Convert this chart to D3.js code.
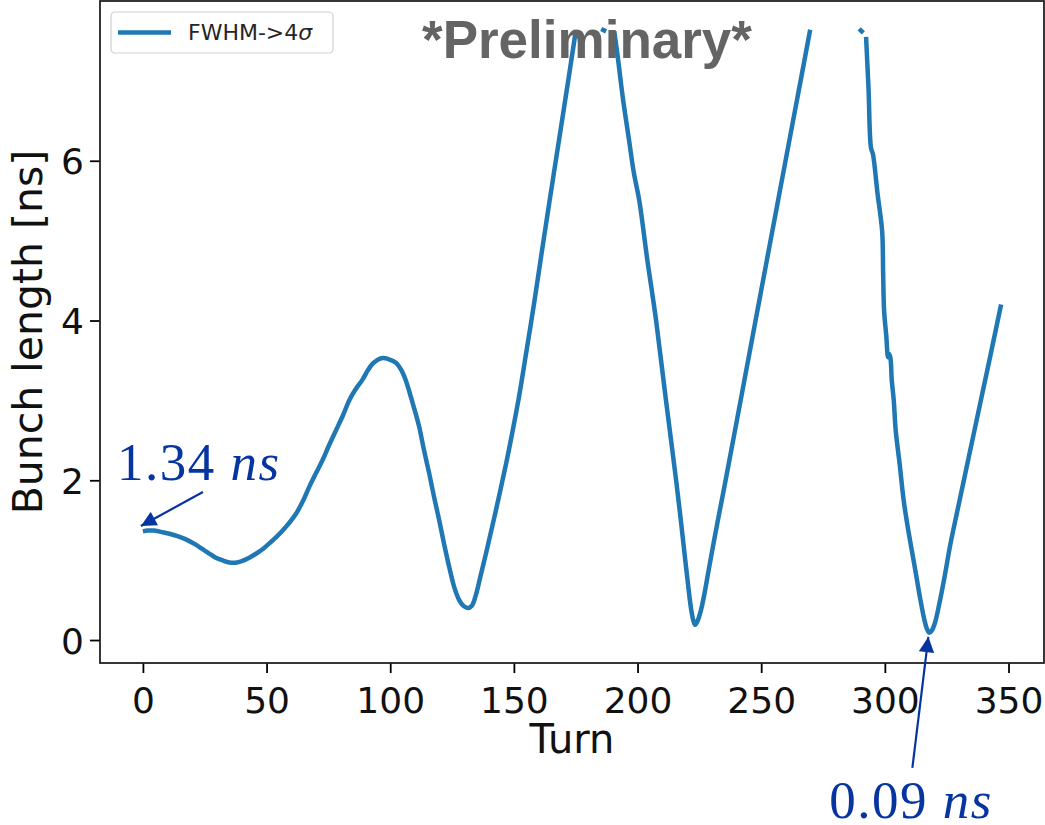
<!DOCTYPE html>
<html>
<head>
<meta charset="utf-8">
<script src="https://cdn.jsdelivr.net/npm/d3@7"></script>
<style>
  body { margin: 0; background: #fff; }
  svg { display: block; }
</style>
</head>
<body>
<div id="chart"></div>
<script>
// bunch length (FWHM scaled to 4 sigma) per turn, null = no valid fit
const turns = [
  0, 2, 4.6, 8, 10.7, 14, 17.4, 21, 24, 27, 29.5, 32, 35, 38, 40.3, 43, 45.7, 48.5,
  51.1, 54, 56.5, 59, 61.9, 65, 67.3, 70, 72.6, 75, 78, 81, 83.4, 86, 88.8, 91, 92.9,
  95, 97, 99, 102.3, 104.5, 106.3, 108, 109.5, 111.7, 113.5, 115.8, 117.8, 119.8,
  121.8, 123.8, 126, 127.9, 129.5, 131.3, 133, 134.5, 136.5, 138.7, 142.7, 146.8,
  149.5, 152.1, 155, 158.2, 161, 164, 167, 170, 172.5, 175,
  176,
  185.3, 187.3,
  188,
  190.6, 192, 194, 196.6, 198.5, 200.7, 204, 207.5, 211.5, 215.6, 217.5, 219.3,
  220.7, 221.7, 222.6, 223.3, 224.3, 225.7, 227.3, 228.9, 232, 235, 241.5, 247.9,
  254.5, 261.3, 265.5, 269.8,
  271,
  289.6, 291.3,
  291.8,
  292.4, 293.4, 294.4, 295.2, 297, 298.9, 299.3, 299.7, 300.6, 301.3, 301.8, 302.3,
  302.8, 303.6, 304.4, 306, 307.6, 309.6, 311.6, 313, 314.4, 316, 317, 318, 319,
  320.3, 322, 323.9, 326.5, 329.2, 334, 339.3, 343, 347
];
const bunchLength = [
  1.36, 1.37, 1.37, 1.35, 1.33, 1.30, 1.26, 1.20, 1.14, 1.08, 1.03, 1.00, 0.97, 0.97, 0.99, 1.03, 1.08, 1.14,
  1.21, 1.29, 1.37, 1.46, 1.58, 1.76, 1.92, 2.09, 2.25, 2.42, 2.62, 2.82, 3.00, 3.14, 3.26, 3.38, 3.46,
  3.51, 3.53, 3.52, 3.47, 3.38, 3.25, 3.08, 2.92, 2.67, 2.40, 2.08, 1.78, 1.50,
  1.20, 0.92, 0.65, 0.50, 0.43, 0.40, 0.43, 0.55, 0.80, 1.08, 1.62, 2.20,
  2.62, 3.05, 3.60, 4.22, 4.80, 5.41, 6.01, 6.61, 7.11, 7.62,
  null,
  7.65, 7.62,
  null,
  7.62, 7.30, 6.80, 6.25, 5.85, 5.50, 4.75, 4.00, 3.00, 2.00, 1.50, 1.00,
  0.62, 0.38, 0.24, 0.19, 0.24, 0.38, 0.62, 0.90, 1.42, 1.90, 2.97, 4.03,
  5.12, 6.24, 6.93, 7.64,
  null,
  7.65, 7.60,
  null,
  7.55, 6.90, 6.16, 6.08, 5.60, 5.12, 4.60, 4.12, 3.80, 3.54, 3.58, 3.52,
  3.25, 3.00, 2.62, 2.20, 1.75, 1.35, 1.00, 0.75, 0.50, 0.25, 0.14, 0.09, 0.12,
  0.22, 0.45, 0.75, 1.20, 1.60, 2.30, 3.07, 3.61, 4.20
];
const xTicks = [0, 50, 100, 150, 200, 250, 300, 350];
const yTicks = [0, 2, 4, 6];
const notes = [
  { turn: 0, value: 1.34, num: "1.34", unit: "ns" },
  { turn: 318, value: 0.09, num: "0.09", unit: "ns" }
];

const width = 1045;
const height = 825;
const margin = { top: 1, right: 1, bottom: 162, left: 100 };
const innerWidth = width - margin.left - margin.right;
const innerHeight = height - margin.top - margin.bottom;

const data = turns.map((t, i) => ({ turn: t, value: bunchLength[i] }));

const svg = d3
  .select("#chart")
  .append("svg")
  .attr("width", width)
  .attr("height", height);

const g = svg.append("g").attr("transform", `translate(${margin.left},${margin.top})`);

// matplotlib style 5% margins
const x = d3.scaleLinear().domain([-17.35, 364.35]).range([0, innerWidth]);
const y = d3.scaleLinear().domain([-0.2875, 8.0]).range([innerHeight, 0]);

g.append("clipPath")
  .attr("id", "plot-clip")
  .append("rect")
  .attr("width", innerWidth)
  .attr("height", innerHeight);

const line = d3
  .line()
  .defined((d) => d.value !== null)
  .x((d) => x(d.turn))
  .y((d) => y(d.value))
  .curve(d3.curveCatmullRom.alpha(0.5));

g.append("path")
  .datum(data)
  .attr("clip-path", "url(#plot-clip)")
  .attr("d", line)
  .style("fill", "none")
  .style("stroke", "#1f77b4")
  .style("stroke-width", 4.5)
  .style("stroke-linejoin", "round")
  .style("stroke-linecap", "butt");

// axes
const xAxis = g
  .append("g")
  .attr("transform", `translate(0,${innerHeight})`)
  .call(d3.axisBottom(x).tickValues(xTicks).tickSize(10).tickPadding(6).tickSizeOuter(0));
const yAxis = g
  .append("g")
  .call(d3.axisLeft(y).tickValues(yTicks).tickSize(10).tickPadding(6).tickSizeOuter(0));

[xAxis, yAxis].forEach((a) => {
  a.select(".domain").remove();
  a.selectAll(".tick line").style("stroke", "#000").style("stroke-width", 1.8);
  a.selectAll(".tick text")
    .style("font-family", "DejaVu Sans")
    .style("font-size", "36px")
    .style("fill", "#111");
});
xAxis.selectAll(".tick text").attr("dy", "0.95em");
yAxis.selectAll(".tick text").attr("dy", "0.36em");

// frame
g.append("rect")
  .attr("width", innerWidth)
  .attr("height", innerHeight)
  .style("fill", "none")
  .style("stroke", "#222")
  .style("stroke-width", 1.8);

// axis titles
g.append("text")
  .attr("x", innerWidth / 2)
  .attr("y", innerHeight + 90)
  .attr("text-anchor", "middle")
  .style("font-family", "DejaVu Sans")
  .style("font-size", "40px")
  .style("fill", "#111")
  .text("Turn");

g.append("text")
  .attr("transform", `translate(${-58},${innerHeight / 2}) rotate(-90)`)
  .attr("text-anchor", "middle")
  .style("font-family", "DejaVu Sans")
  .style("font-size", "41px")
  .style("fill", "#111")
  .text("Bunch length [ns]");

// legend
const legend = g.append("g").attr("transform", "translate(11,11)");
legend
  .append("rect")
  .attr("width", 222)
  .attr("height", 41)
  .attr("rx", 4)
  .style("fill", "#fff")
  .style("fill-opacity", 0.8)
  .style("stroke", "#d0d0d0")
  .style("stroke-width", 1.2);
legend
  .append("line")
  .attr("x1", 7)
  .attr("x2", 60)
  .attr("y1", 20.5)
  .attr("y2", 20.5)
  .style("stroke", "#1f77b4")
  .style("stroke-width", 4.5);
const legendText = legend
  .append("text")
  .attr("x", 77)
  .attr("y", 28)
  .style("font-family", "DejaVu Sans")
  .style("font-size", "22px")
  .style("fill", "#262626")
  .text("FWHM->4");
legendText.append("tspan").style("font-style", "italic").text("σ");

// watermark
g.append("text")
  .attr("x", 487)
  .attr("y", 57)
  .attr("text-anchor", "middle")
  .style("font-family", "Liberation Sans")
  .style("font-weight", "bold")
  .style("font-size", "53px")
  .style("fill", "#646464")
  .text("*Preliminary*");

// annotations with arrows
const noteColor = "#0634a0";
svg.append("defs")
  .append("marker")
  .attr("id", "head")
  .attr("viewBox", "0 0 10 10")
  .attr("refX", 10)
  .attr("refY", 5)
  .attr("markerWidth", 7.5)
  .attr("markerHeight", 7)
  .attr("markerUnits", "strokeWidth")
  .attr("orient", "auto")
  .append("path")
  .attr("d", "M0,0 L10,5 L0,10 z")
  .style("fill", noteColor);

const offsets = [
  { tip: [-2, -7], tail: [60, -41], label: [-26, -53] },
  { tip: [-1, 4], tail: [-17, 135], label: [-100, 185] }
];

notes.forEach((n, i) => {
  const px = x(n.turn);
  const py = y(n.value);
  const o = offsets[i];
  g.append("line")
    .attr("x1", px + o.tail[0])
    .attr("y1", py + o.tail[1])
    .attr("x2", px + o.tip[0])
    .attr("y2", py + o.tip[1])
    .style("stroke", noteColor)
    .style("stroke-width", 2.2)
    .attr("marker-end", "url(#head)");
  const t = g.append("text")
    .attr("x", px + o.label[0])
    .attr("y", py + o.label[1])
    .style("font-family", "Liberation Serif")
    .style("font-size", "53px")
    .style("letter-spacing", "1.5px")
    .style("fill", noteColor)
    .text(n.num + " ");
  t.append("tspan").style("font-style", "italic").text(n.unit);
});
</script>
</body>
</html>
